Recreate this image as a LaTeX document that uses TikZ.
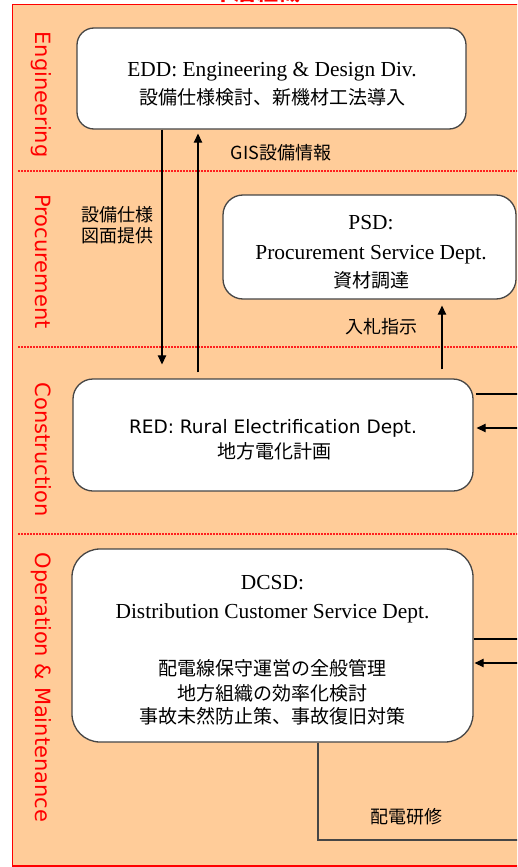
\documentclass[tikz,border=0pt]{standalone}
\usepackage{fontspec}
\setmainfont{Liberation Serif}
\newfontfamily\jpfont{Noto Sans CJK JP}
\newfontfamily\lanefont{DejaVu Sans}
\usetikzlibrary{arrows.meta,calc}
\definecolor{peach}{RGB}{255,204,153}
\definecolor{boxline}{RGB}{70,70,70}
\definecolor{laneline}{RGB}{255,30,30}

\begin{document}
\begin{tikzpicture}[x=1pt,y=-1pt,
  dept/.style={draw=boxline, line width=1.3pt, fill=white, rounded corners=#1, inner sep=0pt},
  serifline/.style={font=\fontsize{21.4}{24}\selectfont, inner sep=0pt, text height=14pt, text depth=0pt},
  sansline/.style={font=\lanefont\fontsize{18.5}{22}\selectfont, inner sep=0pt, text height=13.5pt, text depth=0pt},
  jpline/.style={font=\jpfont\fontsize{19}{22}\selectfont, inner sep=0pt, text height=16.7pt, text depth=2.3pt},
  flowlabel/.style={font=\jpfont\fontsize{18}{21}\selectfont, inner sep=0pt, text height=15.8pt, text depth=2.2pt},
  lanelabel/.style={font=\lanefont\fontsize{21}{24}\selectfont, text=red, rotate=-90, inner sep=0pt, text height=15.3pt, text depth=0pt},
  lanesep/.style={draw=laneline, line width=1.2pt, dash pattern=on 1.5pt off 1.5pt},
  arr/.style={-{Triangle[length=9pt,width=8.5pt]}, line width=1.2pt, black},
  link/.style={line width=1.2pt, black},
  feed/.style={line width=1.2pt, boxline}
]
\useasboundingbox (0,0) rectangle (517,867);
\clip (0,0) rectangle (517,867);

% title above the frame
\node[font=\jpfont\bfseries\fontsize{22}{22}\selectfont, text=red, inner sep=0pt, anchor=south] (title) at (256,3) {本店組織};

% frame and lanes
\draw[red, line width=1.5pt, fill=peach] (12.5,4.5) rectangle (540,866);
\draw[lanesep] (18,171) -- (520,171);
\draw[lanesep] (18,347) -- (520,347);
\draw[lanesep] (18,534) -- (520,534);

\node[lanelabel] (lEng) at (43,94.5) {Engineering};
\node[lanelabel] (lPro) at (43,261.5) {Procurement};
\node[lanelabel] (lCon) at (43,449.5) {Construction};
\node[lanelabel] (lOM) at (43,687.5) {Operation \& Maintenance};

% departments
\node[dept=17pt, minimum width=389pt, minimum height=101pt] (edd) at (271.5,78.5) {};
\node[dept=20pt, minimum width=293pt, minimum height=104pt] (psd) at (369.5,247) {};
\node[dept=20pt, minimum width=400pt, minimum height=112pt] (red) at (273,435) {};
\node[dept=28pt, minimum width=401pt, minimum height=193pt] (dcsd) at (272.5,645.5) {};

\node[serifline] (edd1) at (272,70) {EDD: Engineering \& Design Div.};
\node[jpline] (edd2) at (272,97) {設備仕様検討、新機材工法導入};

\node[serifline] (psd1) at (371,222) {PSD:};
\node[serifline] (psd2) at (371,252) {Procurement Service Dept.};
\node[jpline] (psd3) at (371,280) {資材調達};

\node[sansline] (red1) at (273,427) {RED: Rural Electrification Dept.};
\node[jpline] (red2) at (274,451) {地方電化計画};

\node[serifline] (dcsd1) at (272.5,582) {DCSD:};
\node[serifline] (dcsd2) at (272.5,611) {Distribution Customer Service Dept.};
\node[jpline] (dcsd3) at (272.5,668) {配電線保守運営の全般管理};
\node[jpline] (dcsd4) at (272.5,693) {地方組織の効率化検討};
\node[jpline] (dcsd5) at (272.5,716) {事故未然防止策、事故復旧対策};

% flow labels
\node[flowlabel] (gis) at (281,153) {GIS設備情報};
\node[flowlabel] (spec1) at (117,215) {設備仕様};
\node[flowlabel] (spec2) at (117,236) {図面提供};
\node[flowlabel] (bid) at (381,327) {入札指示};
\node[flowlabel] (train) at (406,817) {配電研修};

% vertical flows
\coordinate (xa) at (162,0);
\coordinate (xb) at (198,0);
\coordinate (xc) at (442,0);
\draw[arr] (edd.south -| xa) -- ($(red.north -| xa)+(0,-14)$);
\draw[arr] ($(red.north -| xb)+(0,-6)$) -- ($(edd.south -| xb)+(0,4)$);
\draw[arr] ($(red.north -| xc)+(0,-9)$) -- ($(psd.south -| xc)+(0,6)$);

% flows leaving to the right
\coordinate (rout) at (525,394);
\coordinate (rin) at (525,428);
\coordinate (dout) at (525,639);
\coordinate (din) at (525,663);
\draw[link] ($(rout -| red.east)+(2,0)$) -- (rout);
\draw[arr] (rin) -- ($(rin -| red.east)+(3,0)$);
\draw[link] (dcsd.east |- dout) -- (dout);
\draw[arr] (din) -- ($(din -| dcsd.east)+(1,0)$);

% training feed
\coordinate (bend) at (318,840);
\coordinate (bout) at (525,840);
\draw[feed] (dcsd.south -| bend) -- (bend) -- (bout);
\end{tikzpicture}
\end{document}
